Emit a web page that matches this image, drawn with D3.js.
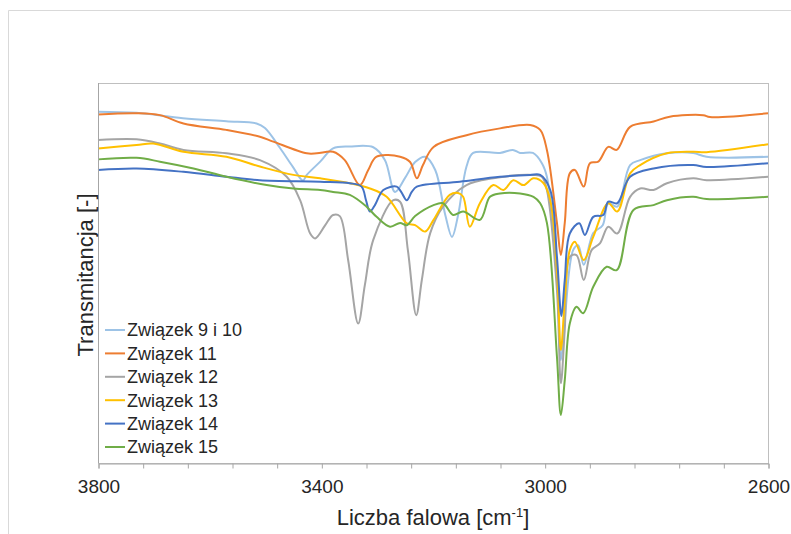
<!DOCTYPE html>
<html>
<head>
<meta charset="utf-8">
<script src="https://cdn.jsdelivr.net/npm/d3@7"></script>
<style>
  body { margin: 0; background: #fff; }
  svg text { font-family: "Liberation Sans", Arial, sans-serif; fill: #262626; }
</style>
</head>
<body>
<svg id="chart" width="791" height="534"></svg>
<script>
// IR spectra, wavenumber [cm-1] vs transmittance (arbitrary %)
const names = ["Związek 9 i 10", "Związek 11", "Związek 12", "Związek 13", "Związek 14", "Związek 15"];
const colors = ["#9dc3e6", "#ed7d31", "#a5a5a5", "#ffc000", "#4472c4", "#70ad47"];

const zw9i10 = [[3800,92.4],[3731,92.1],[3648,90.7],[3570,89.9],[3516,89.3],[3501,88.1],[3474,82.8],[3451,77.8],[3433,74.2],[3426,75.7],[3402,79.2],[3379,82.7],[3349,83.2],[3307,83.0],[3286,79.6],[3268,71.2],[3250,74.9],[3232,79.1],[3214,80.5],[3196,77.0],[3178,65.1],[3166,59.3],[3155,65.1],[3140,77.9],[3128,81.5],[3080,81.5],[3057,82.3],[3044,81.5],[3021,81.5],[3005,78.8],[2996,75.2],[2978,49.7],[2971,26.7],[2964,37.3],[2949,55.8],[2940,57.1],[2930,51.9],[2913,60.3],[2896,62.4],[2886,68.2],[2870,67.3],[2847,78.3],[2829,79.6],[2781,81.4],[2734,81.5],[2710,80.5],[2600,80.5]];
const zw11 = [[3800,91.7],[3731,92.0],[3689,91.5],[3647,89.3],[3570,87.6],[3510,85.8],[3486,84.5],[3426,81.4],[3408,81.4],[3379,81.8],[3358,79.6],[3331,73.0],[3316,77.0],[3301,80.5],[3259,80.5],[3241,79.1],[3229,74.8],[3218,78.3],[3199,83.1],[3140,86.2],[3080,88.0],[3026,88.9],[3008,87.6],[2996,82.3],[2978,63.0],[2971,54.5],[2964,63.0],[2955,76.1],[2946,77.0],[2930,72.6],[2919,78.8],[2904,79.2],[2886,83.1],[2871,82.3],[2847,88.4],[2805,89.8],[2776,91.1],[2716,91.5],[2704,91.0],[2600,92.0]];
const zw12 = [[3800,84.9],[3731,85.1],[3689,84.0],[3647,82.3],[3570,81.4],[3510,79.6],[3462,75.2],[3438,69.0],[3420,60.2],[3411,58.9],[3393,62.4],[3379,65.1],[3367,64.8],[3352,53.2],[3334,36.4],[3322,46.6],[3307,58.5],[3271,69.0],[3259,68.6],[3245,55.8],[3230,38.6],[3220,47.9],[3205,60.3],[3182,67.3],[3140,73.0],[3092,74.8],[3020,75.7],[3005,75.2],[2996,71.7],[2978,45.2],[2971,20.6],[2964,34.7],[2955,54.0],[2943,54.5],[2930,47.9],[2916,55.8],[2901,57.6],[2886,62.0],[2870,60.2],[2847,69.9],[2829,72.1],[2805,71.7],[2781,73.5],[2734,74.8],[2710,74.3],[2600,75.2]];
const zw13 = [[3800,82.7],[3731,83.6],[3701,84.0],[3647,81.8],[3570,80.5],[3510,77.9],[3450,75.7],[3402,74.8],[3349,73.5],[3313,72.1],[3283,69.9],[3247,62.9],[3232,62.4],[3214,60.7],[3199,63.8],[3170,70.4],[3155,70.9],[3146,69.9],[3134,62.0],[3116,68.2],[3092,73.0],[3074,71.7],[3056,74.3],[3038,73.0],[3020,74.8],[3002,73.5],[2990,69.0],[2978,50.5],[2971,29.4],[2964,42.6],[2955,55.8],[2946,58.0],[2930,53.2],[2913,59.3],[2886,68.2],[2870,66.0],[2847,76.1],[2829,78.3],[2781,81.4],[2734,81.8],[2710,81.7],[2600,83.8]];
const zw14 = [[3800,77.0],[3731,77.4],[3647,76.5],[3570,75.2],[3510,74.3],[3402,73.9],[3349,73.5],[3328,72.6],[3320,69.0],[3313,66.0],[3304,67.7],[3289,71.7],[3265,72.6],[3257,71.2],[3247,69.0],[3238,71.2],[3229,72.6],[3152,73.9],[3080,75.2],[3026,75.7],[3008,75.7],[2990,71.7],[2978,54.0],[2970,38.4],[2964,47.9],[2955,60.2],[2938,62.9],[2928,59.8],[2913,64.6],[2895,65.1],[2886,68.6],[2870,68.2],[2847,75.2],[2805,77.4],[2734,78.3],[2710,77.8],[2600,78.8]];
const zw15 = [[3800,79.8],[3731,80.2],[3689,79.2],[3629,77.4],[3570,75.2],[3498,73.0],[3450,72.1],[3402,71.7],[3379,71.2],[3349,70.4],[3319,67.3],[3301,64.6],[3277,62.0],[3259,63.0],[3247,62.4],[3232,64.8],[3199,67.7],[3182,68.2],[3164,65.1],[3146,66.0],[3116,63.8],[3098,69.9],[3080,70.8],[3044,70.8],[3020,69.9],[3008,68.2],[2996,63.0],[2978,27.6],[2971,12.2],[2964,21.4],[2955,36.4],[2943,40.8],[2931,39.1],[2913,46.1],[2889,51.4],[2871,50.5],[2841,66.4],[2805,67.7],[2781,69.0],[2734,69.9],[2710,69.3],[2600,69.9]];

const series = [zw9i10, zw11, zw12, zw13, zw14, zw15];
const xTicks = d3.range(2600, 3801, 80);
const xLabels = [3800, 3400, 3000, 2600];

const svg = d3.select("#chart");
const pLeft = 98, pRight = 768, pTop = 83, pBottom = 463;

// outer chart border (only top + left visible)
svg.append("line").attr("x1", 8.5).attr("x2", 791).attr("y1", 10.5).attr("y2", 10.5)
  .attr("stroke", "#d9d9d9");
svg.append("line").attr("x1", 8.5).attr("x2", 8.5).attr("y1", 10.5).attr("y2", 534)
  .attr("stroke", "#d9d9d9");

let x = d3.scaleLinear().domain([3800, 2600]).range([pLeft, pRight]);
let y = d3.scaleLinear().domain([-0.5, 100]).range([pBottom, pTop]);

// plot frame
svg.append("rect")
  .attr("x", pLeft + 0.5).attr("y", pTop + 0.5)
  .attr("width", pRight - pLeft).attr("height", pBottom - pTop)
  .attr("fill", "none").attr("stroke", "#bfbfbf");

let line = d3.line()
  .x(d => x(d[0]))
  .y(d => y(d[1]))
  .curve(d3.curveCatmullRom.alpha(0.5));

svg.append("g").selectAll("path")
  .data(series)
  .join("path")
  .attr("d", line)
  .attr("fill", "none")
  .attr("stroke", (d, i) => colors[i])
  .attr("stroke-width", 2)
  .attr("stroke-linejoin", "round");

// x axis
let xAxis = d3.axisBottom(x)
  .tickValues(xTicks)
  .tickSize(5)
  .tickFormat(d => xLabels.includes(d) ? d : "");
let gx = svg.append("g")
  .attr("transform", `translate(0.5,${pBottom + 0.5})`)
  .call(xAxis);
gx.select(".domain").attr("stroke", "#a6a6a6");
gx.selectAll(".tick line").attr("stroke", "#a6a6a6");
gx.selectAll(".tick text")
  .attr("dy", "1.15em")
  .style("font-size", "19px")
  .attr("fill", "#262626");

// y axis line only
svg.append("line")
  .attr("x1", pLeft + 0.5).attr("x2", pLeft + 0.5)
  .attr("y1", pTop).attr("y2", pBottom)
  .attr("stroke", "#a6a6a6");

// titles
let xt = svg.append("text")
  .attr("x", 433).attr("y", 525)
  .attr("text-anchor", "middle")
  .style("font-size", "22px");
xt.append("tspan").text("Liczba falowa [cm");
xt.append("tspan").attr("dy", -8).style("font-size", "13px").text("-1");
xt.append("tspan").attr("dy", 8).text("]");

svg.append("text")
  .attr("transform", "translate(93,275) rotate(-90)")
  .attr("text-anchor", "middle")
  .style("font-size", "22px")
  .text("Transmitancja [-]");

// legend
let leg = svg.append("g").attr("transform", "translate(105,330)");
let items = leg.selectAll("g")
  .data(names)
  .join("g")
  .attr("transform", (d, i) => `translate(0,${i * 23.4})`);
items.append("line")
  .attr("x1", 0).attr("x2", 20)
  .attr("stroke", (d, i) => colors[i])
  .attr("stroke-width", 2);
items.append("text")
  .attr("x", 22).attr("dy", "0.35em")
  .style("font-size", "18px")
  .text(d => d);
</script>
</body>
</html>
